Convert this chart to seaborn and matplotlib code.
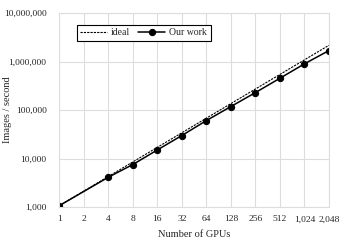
import matplotlib
matplotlib.use("Agg")
import matplotlib.pyplot as plt
import matplotlib.ticker as mticker
import pandas as pd
import seaborn as sns

# Data
gpus = [1, 4, 8, 16, 32, 64, 128, 256, 512, 1024, 2048]
ideal = [1060, 4240, 8480, 16960, 33920, 67840, 135680, 271360, 542720, 1085440, 2170880]
our_work = [1060, 4100, 7500, 15000, 29800, 60500, 118000, 229000, 453000, 898000, 1690000]
x_ticks = [1, 2, 4, 8, 16, 32, 64, 128, 256, 512, 1024, 2048]

df = pd.DataFrame({"gpus": gpus, "ideal": ideal, "Our work": our_work})

sns.set_style("whitegrid")
plt.rcParams["font.family"] = ["Liberation Serif", "DejaVu Serif"]

fig, ax = plt.subplots(figsize=(3.5, 2.47), dpi=100)

sns.lineplot(data=df, x="gpus", y="ideal", ax=ax, color="black", linestyle=(0, (2, 1)),
             linewidth=0.8, label="ideal")
sns.lineplot(data=df, x="gpus", y="Our work", ax=ax, color="black", linewidth=1.1,
             marker="o", markersize=4.5, markeredgecolor="black", label="Our work")

ax.set_xscale("log", base=2)
ax.set_yscale("log")
ax.set_xlim(1, 2048)
ax.set_ylim(1000, 10000000)
ax.set_xticks(x_ticks)
ax.xaxis.set_minor_locator(mticker.NullLocator())
ax.yaxis.set_minor_locator(mticker.NullLocator())
fmt = mticker.FuncFormatter(lambda v, p: f"{int(round(v)):,}")
ax.xaxis.set_major_formatter(fmt)
ax.yaxis.set_major_formatter(fmt)
ax.tick_params(axis="x", labelsize=6.8, length=0, pad=6)
ax.tick_params(axis="y", labelsize=6.8, length=0, pad=9)

ax.set_xlabel("Number of GPUs", fontsize=7.5)
ax.set_ylabel("Images / second", fontsize=7.5)
ax.xaxis.set_label_coords(0.5, -0.12)
ax.yaxis.set_label_coords(-0.175, 0.5)

ax.grid(True, color="#dddddd", linewidth=0.8)
for s in ax.spines.values():
    s.set_color("#dddddd")
    s.set_linewidth(0.8)

leg = ax.legend(loc="upper left", bbox_to_anchor=(0.065, 0.94), ncol=2, fontsize=7,
                frameon=True, fancybox=False, framealpha=1, edgecolor="black",
                handlelength=2.8, columnspacing=0.8, handletextpad=0.4,
                borderpad=0.35, borderaxespad=0)
leg.get_frame().set_linewidth(0.8)

fig.subplots_adjust(left=0.169, right=0.94, top=0.947, bottom=0.162)
fig.savefig("out.png", dpi=100)
